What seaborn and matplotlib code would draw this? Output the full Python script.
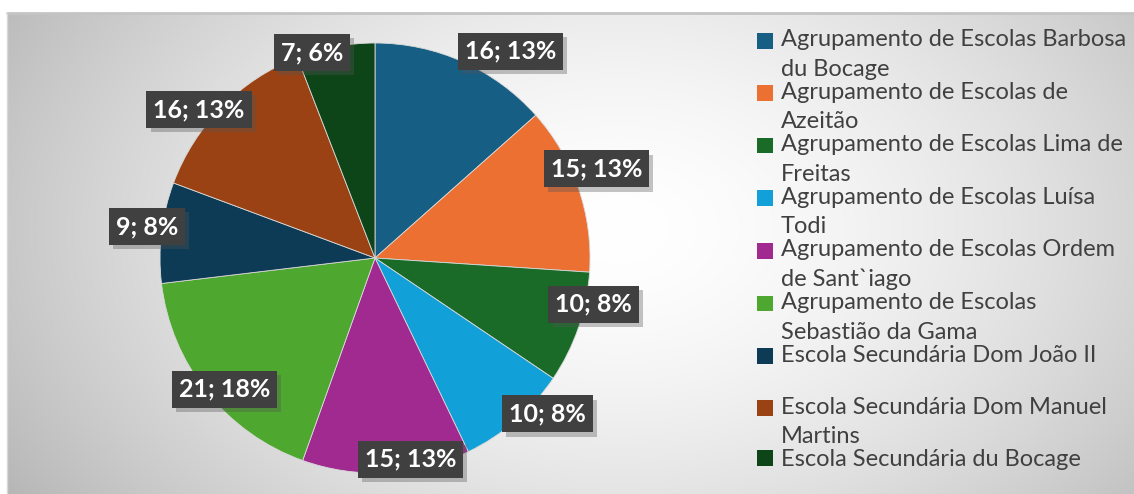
import numpy as np
import matplotlib
matplotlib.use("Agg")
import matplotlib.pyplot as plt
import matplotlib.patheffects as pe
from matplotlib.patches import Patch, Rectangle
from matplotlib.legend_handler import HandlerPatch
import seaborn as sns

# dados
escolas = [
    "Agrupamento de Escolas Barbosa\ndu Bocage",
    "Agrupamento de Escolas de\nAzeitão",
    "Agrupamento de Escolas Lima de\nFreitas",
    "Agrupamento de Escolas Luísa\nTodi",
    "Agrupamento de Escolas Ordem\nde Sant`iago",
    "Agrupamento de Escolas\nSebastião da Gama",
    "Escola Secundária Dom João II\n ",
    "Escola Secundária Dom Manuel\nMartins",
    "Escola Secundária du Bocage",
]
contagens = [16, 15, 10, 10, 15, 21, 9, 16, 7]
cores = ["#175E85", "#EB7032", "#1A6B28", "#11A0D7", "#A02A90",
         "#4EA72E", "#0D3A54", "#9A4213", "#0E4518"]

# ajuste manual da posição dos rótulos (raio relativo, desvio em graus)
label_r = [1.15, 1.11, 1.04, 1.08, 0.95, 0.93, 1.07, 1.07, 1.00]
label_shift = [-9, 3, 7, 7, 7, 2.5, -1, 4.5, 6.5]

sns.set_theme(style="white")
plt.rcParams["font.family"] = ["Lato", "DejaVu Sans"]

W, H = 1134, 494
fig = plt.figure(figsize=(W / 100, H / 100), dpi=100)
fig.patch.set_facecolor("white")

# fundo com gradiente radial
bg = fig.add_axes([7 / W, 0, (W - 7) / W, (H - 14) / H])
xx, yy = np.meshgrid(np.linspace(7, W, 400), np.linspace(14, H, 200))
d = np.sqrt(((xx - 620) / 620) ** 2 + ((yy - 230) / 420) ** 2)
shade = 1 - 0.22 * np.clip(d, 0, 1.2) ** 1.6
bg.imshow(np.dstack([shade] * 3), aspect="auto", extent=(0, 1, 0, 1), origin="upper")
bg.set_axis_off()
fig.add_artist(plt.Line2D([7 / W, 1], [1 - 13 / H] * 2, color="#c4c4c4", lw=2))
fig.add_artist(plt.Line2D([7 / W, 7 / W], [0, 1 - 13 / H], color="#d8d8d8", lw=1))

# pizza
cx, cy, R = 375, 494 - 258, 215
half = 235
ax = fig.add_axes([(cx - half) / W, (cy - half) / H, 2 * half / W, 2 * half / H])
wedges, _ = ax.pie(contagens, colors=cores, startangle=90, counterclock=False,
                   wedgeprops=dict(edgecolor="#d9d9d9", linewidth=0.6))
lim = half / R
ax.set_xlim(-lim, lim)
ax.set_ylim(-lim, lim)
ax.set_axis_off()

total = sum(contagens)
for i, (w, n) in enumerate(zip(wedges, contagens)):
    ang = np.deg2rad((w.theta1 + w.theta2) / 2 + label_shift[i])
    x, y = label_r[i] * np.cos(ang), label_r[i] * np.sin(ang)
    t = ax.text(x, y, f"{n}; {n / total * 100:.0f}%", ha="center", va="center",
                color="white", fontsize=18, fontweight="bold",
                bbox=dict(boxstyle="square,pad=0.28", facecolor="#404040", edgecolor="none"))
    t.get_bbox_patch().set_path_effects([
        pe.SimplePatchShadow(offset=(3, -3), shadow_rgbFace="#555555", alpha=0.35),
        pe.Normal()])


# quadrado da legenda alinhado com a primeira linha do texto
def quadrado_topo(legend, orig_handle, xdescent, ydescent, width, height, fontsize):
    return Rectangle((-xdescent, -ydescent + 0.6 * fontsize), width, height)


handles = [Patch(facecolor=c, edgecolor="none") for c in cores]
hmap = {h: HandlerPatch(patch_func=quadrado_topo)
        for h, lab in zip(handles, escolas) if "\n" in lab}
leg = fig.legend(handles, escolas, loc="upper left", bbox_to_anchor=(748 / W, 1 - 20 / H),
                 frameon=False, fontsize=17, labelcolor="#404040",
                 handlelength=0.65, handleheight=0.65, handletextpad=0.35,
                 labelspacing=0.08, borderaxespad=0, handler_map=hmap)
for txt in leg.get_texts():
    txt.set_linespacing(1.5)

fig.savefig("out.png", dpi=100)
